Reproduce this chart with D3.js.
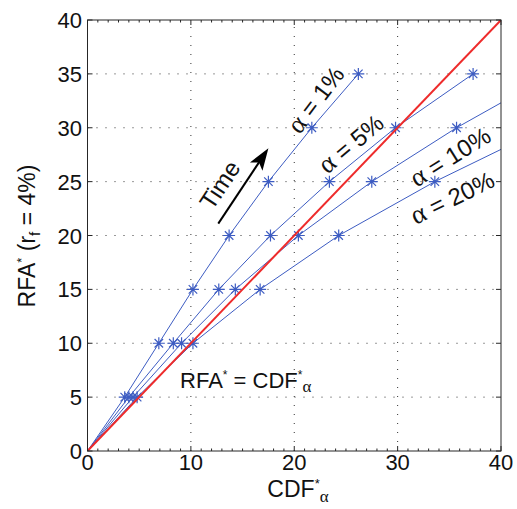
<!DOCTYPE html>
<html lang="en">
<head>
    <meta charset="UTF-8">
    <title>RFA vs CDF</title>
    <script src="https://cdn.jsdelivr.net/npm/d3@7"></script>
    <style>
        body { margin: 0; background: #fff; }
        text { font-family: Arial, "Liberation Sans", Helvetica, sans-serif; fill: #111; }
        .greek { font-family: "Liberation Serif", "DejaVu Serif", serif; }
    </style>
</head>
<body>
<svg width="517" height="509"></svg>

<script>

    // RFA* levels (y) and the CDF* reached by each alpha (x)
    var rfa = [0, 5, 10, 15, 20, 25, 30, 35];
    var cdf1 = [0, 3.6, 6.9, 10.2, 13.7, 17.5, 21.7, 26.2];
    var cdf5 = [0, 4.0, 8.3, 12.7, 17.7, 23.4, 29.8, 37.3];
    var cdf10 = [0, 4.4, 9.1, 14.3, 20.4, 27.5, 35.7, 45.0];
    var cdf20 = [0, 4.8, 10.2, 16.7, 24.3, 33.6, 44.3];

    var xTicks = [0, 10, 20, 30, 40];
    var yTicks = [0, 5, 10, 15, 20, 25, 30, 35, 40];

    var series = [cdf1, cdf5, cdf10, cdf20];

    var svg = d3.select("svg");

    var x = d3.scaleLinear().domain([0, 40]).range([87.5, 501]);
    var y = d3.scaleLinear().domain([0, 40]).range([451, 20]);

    var blue = "#3d5cc2",
        red = "#ee2b2b";

    svg.append("defs").append("clipPath")
        .attr("id", "plot")
        .append("rect")
        .attr("x", x(0)).attr("y", y(40))
        .attr("width", x(40) - x(0)).attr("height", y(0) - y(40));

    // dotted grid
    var grid = svg.append("g").attr("stroke", "#333").attr("stroke-width", 1)
        .attr("stroke-dasharray", "1,8");
    grid.selectAll(".gx").data(xTicks.slice(1, -1)).enter().append("line")
        .attr("x1", function (d) { return x(d); })
        .attr("x2", function (d) { return x(d); })
        .attr("y1", y(0)).attr("y2", y(40));
    grid.selectAll(".gy").data(yTicks.slice(1, -1)).enter().append("line")
        .attr("y1", function (d) { return y(d); })
        .attr("y2", function (d) { return y(d); })
        .attr("x1", x(0)).attr("x2", x(40));

    var plot = svg.append("g").attr("clip-path", "url(#plot)");

    var line = d3.line()
        .x(function (d) { return x(d[0]); })
        .y(function (d) { return y(d[1]); });

    series.forEach(function (s) {
        var pts = s.map(function (v, i) { return [v, rfa[i]]; });
        plot.append("path")
            .attr("d", line(pts))
            .attr("fill", "none")
            .attr("stroke", blue)
            .attr("stroke-width", 1);

        // asterisk markers
        var r = 6, k = r * 0.7071;
        var star = "M" + (-r) + ",0H" + r + "M0," + (-r) + "V" + r +
            "M" + (-k) + "," + (-k) + "L" + k + "," + k +
            "M" + (-k) + "," + k + "L" + k + "," + (-k);
        plot.selectAll(null).data(pts.slice(1)).enter().append("path")
            .attr("transform", function (d) { return "translate(" + x(d[0]) + "," + y(d[1]) + ")"; })
            .attr("d", star)
            .attr("stroke", blue)
            .attr("stroke-width", 1.2);
    });

    // RFA* = CDF* line
    plot.append("line")
        .attr("x1", x(0)).attr("y1", y(0))
        .attr("x2", x(40)).attr("y2", y(40))
        .attr("stroke", red)
        .attr("stroke-width", 2);

    // frame and ticks
    var axis = svg.append("g").attr("stroke", "#262626").attr("stroke-width", 1).attr("fill", "none");
    axis.append("rect")
        .attr("x", x(0)).attr("y", y(40))
        .attr("width", x(40) - x(0)).attr("height", y(0) - y(40));

    var minor = d3.range(0, 41, 1);
    axis.selectAll(".mx").data(minor).enter().append("path")
        .attr("d", function (d) {
            var len = xTicks.indexOf(d) >= 0 ? 5 : 2.5;
            return "M" + x(d) + "," + y(0) + "v" + (-len) + "M" + x(d) + "," + y(40) + "v" + len;
        });
    axis.selectAll(".my").data(yTicks).enter().append("path")
        .attr("d", function (d) {
            return "M" + x(0) + "," + y(d) + "h5M" + x(40) + "," + y(d) + "h-5";
        });

    svg.selectAll(".xl").data(xTicks).enter().append("text")
        .attr("x", function (d) { return x(d); })
        .attr("y", 470)
        .attr("text-anchor", "middle")
        .attr("font-size", 22)
        .text(function (d) { return d; });

    svg.selectAll(".yl").data(yTicks).enter().append("text")
        .attr("x", 82)
        .attr("y", function (d) { return y(d) + 8; })
        .attr("text-anchor", "end")
        .attr("font-size", 22)
        .text(function (d) { return d; });

    // axis titles
    var xt = svg.append("text")
        .attr("x", 298).attr("y", 497)
        .attr("text-anchor", "middle")
        .attr("font-size", 23);
    xt.append("tspan").text("CDF");
    xt.append("tspan").attr("font-size", 13).attr("dy", -9).text("*");
    xt.append("tspan").attr("class", "greek").attr("font-size", 17).attr("dy", 14).text("\u03b1");

    var yt = svg.append("text")
        .attr("transform", "translate(35,236) rotate(-90)")
        .attr("text-anchor", "middle")
        .attr("font-size", 23);
    yt.append("tspan").text("RFA");
    yt.append("tspan").attr("font-size", 13).attr("dy", -9).text("*");
    yt.append("tspan").attr("dy", 9).text(" (r");
    yt.append("tspan").attr("font-size", 15).attr("dy", 5).text("f");
    yt.append("tspan").attr("dy", -5).text(" = 4%)");

    // series labels
    var labels = [
        {t: "1%", x: 22.1, y: 32.6, a: -53},
        {t: "5%", x: 25.5, y: 28.5, a: -40},
        {t: "10%", x: 35.1, y: 27.3, a: -32},
        {t: "20%", x: 35.3, y: 23.5, a: -26}
    ];
    labels.forEach(function (l) {
        var t = svg.append("text")
            .attr("transform", "translate(" + x(l.x) + "," + y(l.y) + ") rotate(" + l.a + ")")
            .attr("text-anchor", "middle")
            .attr("dy", "0.35em")
            .attr("font-size", 24);
        t.append("tspan").attr("class", "greek").attr("font-size", 27).text("\u03b1");
        t.append("tspan").text(" = " + l.t);
    });

    // time arrow
    var tail = [12.65, 21.1], tip = [17.5, 28.1];
    var x1 = x(tail[0]), y1 = y(tail[1]), x2 = x(tip[0]), y2 = y(tip[1]);
    var ang = Math.atan2(y2 - y1, x2 - x1) * 180 / Math.PI;
    var len = Math.sqrt((x2 - x1) * (x2 - x1) + (y2 - y1) * (y2 - y1));
    var arrow = svg.append("g").attr("transform", "translate(" + x1 + "," + y1 + ") rotate(" + ang + ")");
    arrow.append("line").attr("x1", 0).attr("y1", 0).attr("x2", len - 14).attr("y2", 0)
        .attr("stroke", "#000").attr("stroke-width", 2);
    arrow.append("path").attr("d", "M" + len + ",0L" + (len - 22) + ",-7.5L" + (len - 17) + ",0L" + (len - 22) + ",7.5Z")
        .attr("fill", "#000");

    svg.append("text")
        .attr("transform", "translate(" + x(12.8) + "," + y(24.7) + ") rotate(" + ang + ")")
        .attr("text-anchor", "middle")
        .attr("dy", "0.35em")
        .attr("font-size", 24)
        .text("Time");

    // identity label
    var eq = svg.append("text")
        .attr("x", x(8.95)).attr("y", y(5.85))
        .attr("font-size", 22);
    eq.append("tspan").text("RFA");
    eq.append("tspan").attr("font-size", 12).attr("dy", -9).text("*");
    eq.append("tspan").attr("dy", 9).text(" = CDF");
    eq.append("tspan").attr("font-size", 12).attr("dy", -9).text("*");
    eq.append("tspan").attr("class", "greek").attr("font-size", 17).attr("dy", 13).text("\u03b1");

</script>

</body>
</html>
